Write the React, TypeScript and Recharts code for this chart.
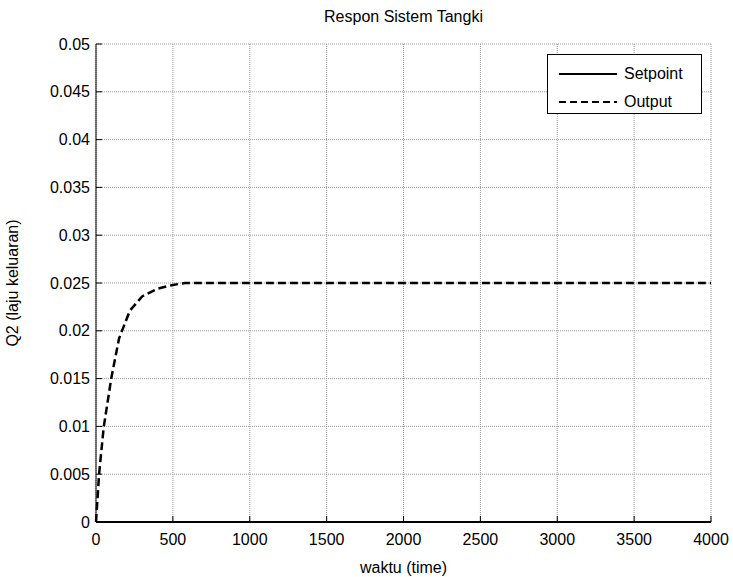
import React from "react";
import {
  LineChart, Line, XAxis, YAxis, CartesianGrid, Legend, Label,
} from "recharts";

// waktu (time) samples and response values
const timeValues = [0, 20, 50, 100, 150, 220, 300, 400, 500, 580, 1000, 2000, 3000, 4000];
const outputValues = [0, 0.005, 0.0099, 0.0151, 0.0192, 0.0221, 0.0236, 0.0244, 0.0248, 0.025, 0.025, 0.025, 0.025, 0.025];
const setpointValues = [0, 0, 0, 0, 0, 0, 0, 0, 0, 0, 0, 0, 0, 0];

const xTicks = [0, 500, 1000, 1500, 2000, 2500, 3000, 3500, 4000];
const yTicks = [0, 0.005, 0.01, 0.015, 0.02, 0.025, 0.03, 0.035, 0.04, 0.045, 0.05];

const seriesNames = ["Setpoint", "Output"];

const data = timeValues.map((t, i) => ({
  time: t,
  setpoint: setpointValues[i],
  output: outputValues[i],
}));

const FONT = "'Liberation Sans', Arial, Helvetica, sans-serif";
const FS = 16;
const TICK_LEN = 6;

const BottomTick = (props: any) => {
  const { x, y, payload } = props;
  return (
    <g>
      <line x1={x} x2={x} y1={y - 12} y2={y - 12 - TICK_LEN} stroke="#000" />
      <text x={x} y={y} dy="0.71em" textAnchor="middle" fill="#000" fontSize={FS} fontFamily={FONT}>
        {payload.value}
      </text>
    </g>
  );
};

const LeftTick = (props: any) => {
  const { x, y, payload } = props;
  return (
    <g>
      <line x1={x + 6} x2={x + 6 + TICK_LEN} y1={y} y2={y} stroke="#000" />
      <text x={x} y={y} dy="0.355em" textAnchor="end" fill="#000" fontSize={FS} fontFamily={FONT}>
        {String(payload.value)}
      </text>
    </g>
  );
};

const TopTick = (props: any) => {
  const { x, y } = props;
  return <line x1={x} x2={x} y1={y} y2={y + TICK_LEN} stroke="#000" />;
};

const RightTick = (props: any) => {
  const { x, y } = props;
  return <line x1={x} x2={x - TICK_LEN} y1={y} y2={y} stroke="#000" />;
};

const LegendBox = () => (
  <div
    style={{
      border: "1px solid #000",
      background: "#fff",
      width: 155,
      height: 60,
      boxSizing: "border-box",
      fontFamily: FONT,
      fontSize: FS,
      color: "#000",
      position: "relative",
    }}
  >
    {seriesNames.map((name, i) => (
      <div
        key={name}
        style={{ position: "absolute", left: 11, top: 9 + i * 28, display: "flex", alignItems: "center", height: 19 }}
      >
        <svg width={60} height={6}>
          <line
            x1={0} x2={58} y1={3} y2={3}
            stroke="#000" strokeWidth={2}
            strokeDasharray={i === 1 ? "7 4" : undefined}
          />
        </svg>
        <span style={{ marginLeft: 5 }}>{name}</span>
      </div>
    ))}
  </div>
);

export default function App() {
  return (
    <div style={{ position: "absolute", left: 0, top: 0, width: 733, height: 577, background: "#fff" }}>
      <div
        style={{
          position: "absolute", left: 96, top: 8, width: 615, textAlign: "center",
          fontFamily: FONT, fontSize: FS, color: "#000",
        }}
      >
        Respon Sistem Tangki
      </div>
      <LineChart
        width={733}
        height={577}
        data={data}
        margin={{ top: 44, right: 22, bottom: 0, left: 0 }}
      >
        <CartesianGrid xAxisId="bottom" yAxisId="left" stroke="#999" strokeDasharray="1 1" />
        <XAxis
          xAxisId="bottom"
          dataKey="time"
          type="number"
          domain={[0, 4000]}
          ticks={xTicks}
          height={55}
          tickSize={0}
          tickMargin={12}
          tick={<BottomTick />}
          axisLine={{ stroke: "#000" }}
          interval={0}
        >
          <Label value="waktu (time)" position="insideBottom" offset={4} fill="#000" fontSize={FS} fontFamily={FONT} />
        </XAxis>
        <XAxis
          xAxisId="top"
          dataKey="time"
          type="number"
          orientation="top"
          domain={[0, 4000]}
          ticks={xTicks}
          height={0}
          tickSize={0}
          tickMargin={0}
          tick={<TopTick />}
          axisLine={{ stroke: "#000" }}
          interval={0}
        />
        <YAxis
          yAxisId="left"
          type="number"
          domain={[0, 0.05]}
          ticks={yTicks}
          width={96}
          tickSize={0}
          tickMargin={6}
          tick={<LeftTick />}
          axisLine={{ stroke: "#000" }}
          interval={0}
        >
          <Label
            value="Q2 (laju keluaran)"
            angle={-90}
            position="insideLeft"
            offset={12}
            fill="#000"
            fontSize={FS}
            fontFamily={FONT}
            style={{ textAnchor: "middle" }}
          />
        </YAxis>
        <YAxis
          yAxisId="right"
          type="number"
          orientation="right"
          domain={[0, 0.05]}
          ticks={yTicks}
          width={0}
          tickSize={0}
          tickMargin={0}
          tick={<RightTick />}
          axisLine={{ stroke: "#000" }}
          interval={0}
        />
        <Legend
          content={<LegendBox />}
          layout="horizontal"
          verticalAlign="middle"
          align="center"
          wrapperStyle={{ top: 54, left: 547, width: 155 }}
        />
        <Line
          xAxisId="bottom"
          yAxisId="left"
          type="linear"
          dataKey="setpoint"
          name="Setpoint"
          stroke="#000"
          strokeWidth={2}
          dot={false}
          isAnimationActive={false}
        />
        <Line
          xAxisId="bottom"
          yAxisId="left"
          type="linear"
          dataKey="output"
          name="Output"
          stroke="#000"
          strokeWidth={2.5}
          strokeDasharray="8 4"
          dot={false}
          isAnimationActive={false}
        />
      </LineChart>
    </div>
  );
}
